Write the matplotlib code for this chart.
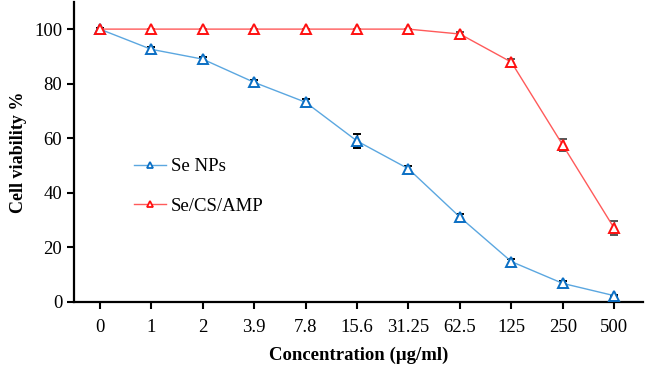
import matplotlib
matplotlib.use("Agg")
import matplotlib.pyplot as plt
from matplotlib.lines import Line2D
import numpy as np

categories = ["0", "1", "2", "3.9", "7.8", "15.6", "31.25", "62.5", "125", "250", "500"]
se_nps = [100, 92.6, 89, 80.5, 73.2, 59, 48.8, 31.1, 14.8, 6.8, 2.3]
se_nps_err = [0.4, 0.8, 0.8, 1.0, 1.2, 2.5, 1.2, 1.0, 0.8, 0.8, 0.4]
se_cs_amp = [100, 100, 100, 100, 100, 100, 100, 98.2, 87.9, 57.5, 27]
se_cs_amp_err = [0, 0, 0, 0, 0, 0, 0, 0.8, 1.3, 2.3, 2.6]

plt.rcParams['font.family'] = ['Liberation Serif', 'DejaVu Serif']

fig = plt.figure(figsize=(6.46, 3.66), dpi=100)
ax = fig.add_axes([0.1146, 0.175, 0.880, 0.820])

x = np.arange(len(categories))
blue_line, blue_mk = '#5BA7E0', '#0B6FC4'
red_line, red_mk = '#FF5A5A', '#FF1010'
ax.errorbar(x, se_nps, yerr=se_nps_err, color=blue_line, lw=1.0, ecolor='black',
            elinewidth=1.0, capsize=3, capthick=1.0, marker='^', ms=6.5,
            mfc='white', mec=blue_mk, mew=1.4, zorder=3)
ax.errorbar(x, se_cs_amp, yerr=se_cs_amp_err, color=red_line, lw=1.0, ecolor='#555555',
            elinewidth=1.0, capsize=3, capthick=1.0, marker='^', ms=6.5,
            mfc='white', mec=red_mk, mew=1.4, zorder=3)

ax.set_xlim(-0.5, 10.55)
ax.set_ylim(0, 110)
ax.set_yticks([0, 20, 40, 60, 80, 100])
ax.set_xticks(x)
ax.set_xticklabels(categories)
for s in ['top', 'right']:
    ax.spines[s].set_visible(False)
for s in ['left', 'bottom']:
    ax.spines[s].set_linewidth(1.6)
ax.tick_params(axis='both', labelsize=13.5, width=1.5, length=5, direction='out')
ax.tick_params(axis='x', pad=7)
ax.set_ylabel('Cell viability %', fontsize=13, fontweight='bold', labelpad=5)
ax.set_xlabel('Concentration (µg/ml)', fontsize=13.5, fontweight='bold', labelpad=8)

handles = [
    Line2D([], [], color=blue_line, lw=1.0, marker='^', ms=5, mfc='white', mec=blue_mk, mew=1.3),
    Line2D([], [], color=red_line, lw=1.0, marker='^', ms=5, mfc='white', mec=red_mk, mew=1.3),
]
ax.legend(handles, ['Se NPs', 'Se/CS/AMP'], loc='upper left', bbox_to_anchor=(0.075, 0.535),
          frameon=False, fontsize=13.5, handlelength=1.75, labelspacing=1.2, handletextpad=0.25)

fig.savefig('out.png', dpi=100)
